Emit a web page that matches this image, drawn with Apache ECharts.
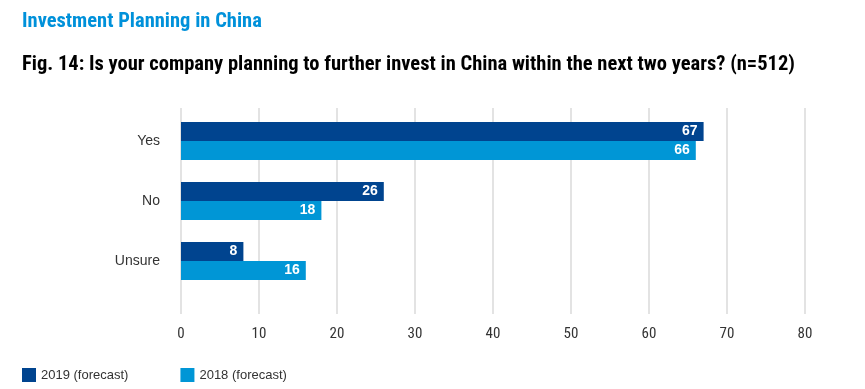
<!DOCTYPE html>
<html><head><meta charset="utf-8">
<script src="https://cdn.jsdelivr.net/npm/echarts@6/dist/echarts.min.js"></script>
<style>html,body{margin:0;padding:0;background:#fff}#c{width:865px;height:389px}</style>
</head><body><div id="c"></div>
<script>
var categories = ['Yes', 'No', 'Unsure'];
var seriesNames = ['2019 (forecast)', '2018 (forecast)'];
var values2019 = [67, 26, 8];
var values2018 = [66, 18, 16];
var xTicks = [0, 10, 20, 30, 40, 50, 60, 70, 80];

var chart = echarts.init(document.getElementById('c'));
var narrow = '"Liberation Sans Narrow", "Roboto Condensed", Arial, sans-serif';
var labelStyle = {show: true, position: 'insideRight', color: '#fff', fontWeight: 'bold', fontSize: 14, fontFamily: 'Arial, sans-serif', distance: 6};
chart.setOption({
  animation: false,
  title: [
    {text: 'Investment Planning in China', left: 17, top: 6, textStyle: {color: '#0091da', fontSize: 20.5, fontWeight: 'bold', fontFamily: narrow}},
    {text: 'Fig. 14: Is your company planning to further invest in China within the next two years? (n=512)', left: 17, top: 49, textStyle: {color: '#000', fontSize: 20.5, fontWeight: 'bold', fontFamily: narrow}}
  ],
  legend: {
    left: 17, top: 363, itemWidth: 14, itemHeight: 14, itemGap: 52,
    icon: 'rect',
    textStyle: {color: '#333', fontSize: 13, fontFamily: 'Arial, sans-serif'},
    data: seriesNames
  },
  grid: [
    {left: 181, width: 624, top: 108, height: 206},
    {left: 181, width: 624, top: 111, height: 180}
  ],
  xAxis: [
    {gridIndex: 0, type: 'value', min: xTicks[0], max: xTicks[xTicks.length - 1], interval: 10,
     axisLine: {show: false}, axisTick: {show: false},
     axisLabel: {color: '#333', fontSize: 15, margin: 13, fontFamily: narrow},
     splitLine: {lineStyle: {color: '#e3e3e3', width: 2}}},
    {gridIndex: 1, type: 'value', min: xTicks[0], max: xTicks[xTicks.length - 1], interval: 10, show: false, splitLine: {show: false}}
  ],
  yAxis: [
    {gridIndex: 0, type: 'category', data: categories, show: false},
    {gridIndex: 1, type: 'category', data: categories, inverse: true,
     axisLine: {show: false}, axisTick: {show: false},
     axisLabel: {color: '#333', fontSize: 14, margin: 21, fontFamily: 'Arial, sans-serif'}}
  ],
  series: [
    {name: seriesNames[0], type: 'bar', xAxisIndex: 1, yAxisIndex: 1, data: values2019, barWidth: 19, barGap: '0%',
     itemStyle: {color: '#00448f'}, label: labelStyle},
    {name: seriesNames[1], type: 'bar', xAxisIndex: 1, yAxisIndex: 1, data: values2018, barWidth: 19, barGap: '0%',
     itemStyle: {color: '#0096d6'}, label: labelStyle}
  ]
});
</script></body></html>
